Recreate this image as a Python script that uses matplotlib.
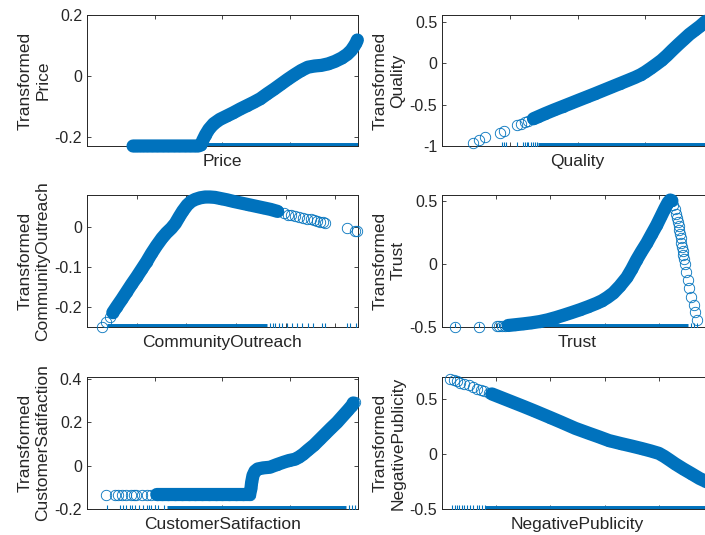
import numpy as np
import matplotlib
matplotlib.use('Agg')
import matplotlib.pyplot as plt

plt.rcParams['font.family'] = ['Liberation Sans', 'DejaVu Sans']
plt.rcParams['axes.unicode_minus'] = False

# shape functions of the six predictors
price_x = [0.68, 0.71, 0.74, 0.78, 0.83, 0.89, 0.96, 1.04, 1.12, 1.20, 1.28, 1.36, 1.44, 1.52, 1.59, 1.64,
           1.68, 1.71, 1.75, 1.80, 1.87, 1.96, 2.06, 2.16, 2.26, 2.36, 2.46, 2.56, 2.66, 2.76, 2.86, 2.96,
           3.06, 3.16, 3.26, 3.36, 3.46, 3.56, 3.66, 3.76, 3.84, 3.90, 3.94, 3.97, 3.99]
price_y = [-0.229, -0.229, -0.229, -0.229, -0.229, -0.229, -0.229, -0.229, -0.229, -0.229, -0.229, -0.229,
           -0.229, -0.229, -0.229, -0.229,
           -0.226, -0.210, -0.192, -0.174, -0.156, -0.142, -0.131, -0.120, -0.108, -0.097, -0.086, -0.074,
           -0.058, -0.043, -0.027, -0.011, 0.004, 0.018, 0.029, 0.033, 0.035, 0.040, 0.048, 0.059, 0.071,
           0.084, 0.097, 0.108, 0.118]
price_rug = []

quality_x = [0.45, 0.55, 0.64, 0.86, 0.92, 1.11, 1.16, 1.22, 1.27, 1.35, 1.42, 1.52, 1.65, 1.78, 1.90, 2.01,
             2.14, 2.26, 2.38, 2.50, 2.62, 2.74, 2.85, 2.93, 3.00, 3.08, 3.16, 3.24, 3.32, 3.40, 3.49, 3.57,
             3.65, 3.73, 3.81, 3.88, 3.95, 4.00]
quality_y = [-0.960, -0.927, -0.895, -0.839, -0.819, -0.750, -0.734, -0.714, -0.695, -0.670, -0.645, -0.609,
             -0.565, -0.523, -0.484, -0.448, -0.406, -0.367, -0.327, -0.287, -0.247, -0.207, -0.170, -0.139,
             -0.105, -0.060, -0.013, 0.036, 0.095, 0.160, 0.230, 0.290, 0.350, 0.400, 0.450, 0.500, 0.540,
             0.570]
quality_rug = [0.88, 0.91, 0.94, 1.11, 1.19, 1.22, 1.25, 1.27, 1.31, 1.34, 1.37, 1.40]

co_x = [0.30, 0.38, 0.46, 0.52, 0.60, 0.70, 0.80, 0.90, 1.00, 1.10, 1.20, 1.30, 1.40, 1.51, 1.60, 1.70, 1.78,
        1.86, 1.93, 2.02, 2.10, 2.18, 2.28, 2.38, 2.48, 2.58, 2.70, 2.82, 2.95, 3.10, 3.25, 3.40, 3.55, 3.70,
        3.84, 3.96, 4.04, 4.12, 4.20, 4.28, 4.36, 4.44, 4.51, 4.58, 4.64, 4.70, 4.75, 4.80, 5.24, 5.40, 5.44]
co_y = [-0.250, -0.237, -0.225, -0.214, -0.199, -0.181, -0.162, -0.143, -0.125, -0.106, -0.087, -0.066,
        -0.047, -0.028, -0.015, -0.003, 0.009, 0.026, 0.040, 0.055, 0.064, 0.069, 0.073, 0.075, 0.075, 0.074,
        0.071, 0.068, 0.064, 0.060, 0.056, 0.052, 0.048, 0.044, 0.039, 0.034, 0.031, 0.029, 0.027, 0.025,
        0.023, 0.021, 0.019, 0.017, 0.015, 0.013, 0.012, 0.011, -0.003, -0.009, -0.010]
co_rug = [3.69, 3.75, 3.79, 3.86, 3.93, 4.03, 4.13, 4.23, 4.33, 4.46, 4.56, 4.73, 4.80, 5.23, 5.29, 5.42]

trust_x = [0.24, 0.68, 1.01, 1.06, 1.11, 1.16, 1.22, 1.35, 1.50, 1.65, 1.80, 1.95, 2.10, 2.25, 2.40, 2.55,
           2.70, 2.85, 2.95, 3.05, 3.16, 3.28, 3.41, 3.50, 3.59, 3.68, 3.78, 3.87, 3.96, 4.04, 4.11, 4.17,
           4.21, 4.24, 4.27, 4.29, 4.32, 4.335, 4.35, 4.365, 4.38, 4.39, 4.40, 4.415, 4.43, 4.44, 4.45,
           4.465, 4.48, 4.50, 4.53, 4.56, 4.60, 4.64, 4.67, 4.70]
trust_y = [-0.500, -0.500, -0.496, -0.494, -0.492, -0.490, -0.488, -0.482, -0.475, -0.467, -0.457, -0.443,
           -0.425, -0.405, -0.384, -0.362, -0.338, -0.312, -0.292, -0.265, -0.230, -0.175, -0.106, -0.040,
           0.034, 0.100, 0.169, 0.240, 0.310, 0.380, 0.442, 0.490, 0.510, 0.505, 0.468, 0.435, 0.400, 0.370,
           0.336, 0.303, 0.270, 0.237, 0.204, 0.170, 0.137, 0.104, 0.071, 0.038, 0.005, -0.061, -0.127,
           -0.193, -0.259, -0.325, -0.378, -0.444]
trust_rug = [0.24, 0.68, 1.01, 1.06, 1.11, 1.16, 4.60, 4.64, 4.70]

cs_x = [0.28, 0.41, 0.46, 0.51, 0.58, 0.65, 0.69, 0.73, 0.81, 0.88, 0.95, 1.03, 1.10, 1.20, 1.30, 1.40, 1.50,
        1.60, 1.70, 1.80, 1.90, 2.00, 2.10, 2.20, 2.30, 2.40, 2.42, 2.43, 2.45, 2.48, 2.52, 2.60, 2.70, 2.80,
        2.90, 2.98, 3.07, 3.13, 3.19, 3.26, 3.35, 3.44, 3.52, 3.60, 3.69, 3.77, 3.85, 3.91, 3.93, 3.95]
cs_y = [-0.133, -0.133, -0.133, -0.133, -0.133, -0.133, -0.133, -0.133, -0.133, -0.133, -0.133, -0.133,
        -0.133, -0.133, -0.133, -0.133, -0.133, -0.133, -0.133, -0.133, -0.133, -0.133, -0.133, -0.133,
        -0.133, -0.133, -0.105, -0.077, -0.045, -0.025, -0.015, -0.010, -0.007, 0.005, 0.016, 0.024, 0.030,
        0.040, 0.053, 0.072, 0.095, 0.123, 0.148, 0.173, 0.200, 0.228, 0.256, 0.278, 0.290, 0.296]
cs_rug = [0.29, 0.49, 0.53, 0.58, 0.64, 0.67, 0.71, 0.77, 0.83, 0.88, 0.91, 0.95, 1.00, 1.05, 1.13,
          3.86, 3.91, 3.96]

np_x = [0.15, 0.22, 0.28, 0.34, 0.40, 0.49, 0.58, 0.65, 0.71, 0.77, 0.86, 0.92, 1.10, 1.30, 1.50, 1.70, 1.85,
        2.00, 2.20, 2.46, 2.70, 2.90, 3.08, 3.30, 3.50, 3.69, 3.85, 4.00, 4.10, 4.20, 4.30, 4.45, 4.60, 4.75,
        4.85, 5.00]
np_y = [0.684, 0.672, 0.661, 0.650, 0.639, 0.623, 0.607, 0.594, 0.583, 0.572, 0.556, 0.546, 0.511, 0.472,
        0.433, 0.393, 0.362, 0.331, 0.289, 0.233, 0.190, 0.155, 0.122, 0.095, 0.072, 0.049, 0.028, 0.006,
        -0.022, -0.055, -0.089, -0.135, -0.178, -0.222, -0.245, -0.290]
np_rug = [0.18, 0.23, 0.28, 0.32, 0.36, 0.40, 0.46, 0.52, 0.58, 0.65, 0.69, 0.74, 0.79]

blue = '#0072BD'
grey = '#262626'

fig = plt.figure(figsize=(7.05, 5.35), dpi=100)


def panel(pos, name, x, y, dense, rug, rug_dense, xlim, xticks, ylim, yticks):
    ax = fig.add_axes(pos)
    x = np.asarray(x)
    y = np.asarray(y)
    # overlapping circles where the data is dense
    m = (x >= dense[0]) & (x <= dense[1])
    ax.plot(x[m], y[m], '-', lw=9.5, color=blue, solid_capstyle='round',
            solid_joinstyle='round', clip_on=False, zorder=3)
    ax.plot(x, y, 'o', ms=7.5, mfc='none', mec=blue, mew=0.6, clip_on=False, zorder=3)
    # rug along the bottom
    ybot = ylim[0]
    ax.plot(rug, [ybot] * len(rug), '|', ms=6, mew=0.8, color=blue, zorder=3)
    ax.plot(rug_dense, [ybot, ybot], '-', lw=5, color=blue, solid_capstyle='butt', zorder=3)
    ax.set_xlim(xlim)
    ax.set_ylim(ylim)
    ax.set_xticks(xticks)
    ax.set_yticks(yticks)
    ax.set_yticklabels(['%g' % t for t in yticks])
    ax.tick_params(direction='in', length=3, width=0.6, top=True, right=True,
                   labelbottom=False, labelsize=11.5, colors=grey, pad=3.5)
    for s in ax.spines.values():
        s.set_color(grey)
        s.set_linewidth(0.7)
    ax.set_xlabel(name, fontsize=12.5, color=grey)
    ax.xaxis.set_label_coords(0.5, -0.06)
    ax.set_ylabel('Transformed\n' + name, fontsize=12.5, color=grey)
    ax.yaxis.set_label_coords(-0.135, 0.5)
    return ax


lx, rx, w = 0.1234, 0.6270, 0.3844
panel([lx, 0.7271, w, 0.2449], 'Price', price_x, price_y, (0.6, 4.0), price_rug, [0.68, 4.0],
      (0, 4), [0, 1, 2, 3, 4], (-0.229, 0.2), [-0.2, 0, 0.2])
panel([rx, 0.7271, w, 0.2449], 'Quality', quality_x, quality_y, (1.30, 4.0), quality_rug, [1.42, 4.0],
      (0, 4), [0, 1, 2, 3, 4], (-1, 0.585), [-1, -0.5, 0, 0.5])
panel([lx, 0.3888, w, 0.2467], 'CommunityOutreach', co_x, co_y, (0.50, 3.90), co_rug, [0.40, 3.62],
      (0, 5.46), [0, 1, 2, 3, 4, 5], (-0.25, 0.08), [-0.2, -0.1, 0])
panel([rx, 0.3888, w, 0.2467], 'Trust', trust_x, trust_y, (1.20, 4.26), trust_rug, [1.20, 4.54],
      (0, 5), [0, 1, 2, 3, 4, 5], (-0.5, 0.55), [-0.5, 0, 0.5])
panel([lx, 0.0486, w, 0.2467], 'CustomerSatifaction', cs_x, cs_y, (1.0, 3.93), cs_rug, [1.18, 3.83],
      (0, 4), [0, 1, 2, 3, 4], (-0.2, 0.41), [-0.2, 0, 0.2, 0.4])
panel([rx, 0.0486, w, 0.2467], 'NegativePublicity', np_x, np_y, (0.88, 5.0), np_rug, [0.80, 5.0],
      (0, 5), [0, 1, 2, 3, 4, 5], (-0.5, 0.70), [-0.5, 0, 0.5])

fig.savefig('out.png', dpi=100)
